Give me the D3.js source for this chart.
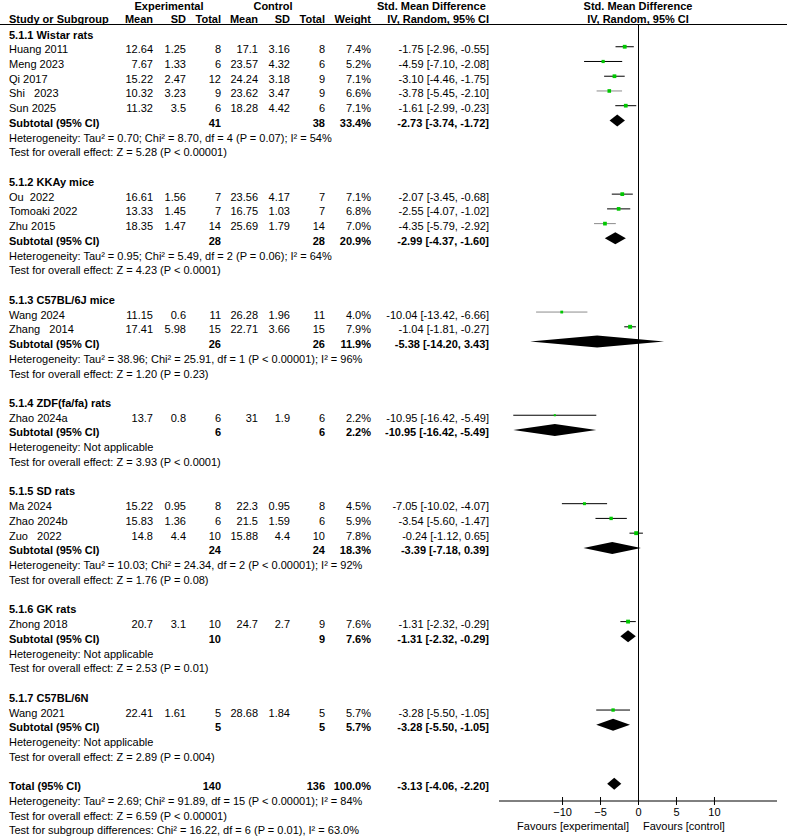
<!DOCTYPE html>
<html><head><meta charset="utf-8">
<script src="https://cdn.jsdelivr.net/npm/d3@7"></script>
<style>
body{margin:0;background:#fff;}
svg text{font-family:"Liberation Sans",Arial,sans-serif;font-size:11px;fill:#000;white-space:pre;}
svg text.b{font-weight:bold;}
</style></head><body><svg id="c" width="787" height="838"></svg>
<script>
// ---------- DATA ----------
const groupNames = ["5.1.1 Wistar rats","5.1.2 KKAy mice","5.1.3 C57BL/6J mice","5.1.4 ZDF(fa/fa) rats","5.1.5 SD rats","5.1.6 GK rats","5.1.7 C57BL/6N"];
const studyNames = ["Huang 2011","Meng 2023","Qi 2017","Shi   2023","Sun 2025","Ou  2022","Tomoaki 2022","Zhu 2015","Wang 2024","Zhang   2014","Zhao 2024a","Ma 2024","Zhao 2024b","Zuo   2022","Zhong 2018","Wang 2021"];
const studyGroup = [0,0,0,0,0,1,1,1,2,2,3,4,4,4,5,6];
const expMean = [12.64,7.67,15.22,10.32,11.32,16.61,13.33,18.35,11.15,17.41,13.7,15.22,15.83,14.8,20.7,22.41];
const expSD = [1.25,1.33,2.47,3.23,3.5,1.56,1.45,1.47,0.6,5.98,0.8,0.95,1.36,4.4,3.1,1.61];
const expN = [8,6,12,9,6,7,7,14,11,15,6,8,6,10,10,5];
const ctlMean = [17.1,23.57,24.24,23.62,18.28,23.56,16.75,25.69,26.28,22.71,31,22.3,21.5,15.88,24.7,28.68];
const ctlSD = [3.16,4.32,3.18,3.47,4.42,4.17,1.03,1.79,1.96,3.66,1.9,0.95,1.59,4.4,2.7,1.84];
const ctlN = [8,6,9,9,6,7,7,14,11,15,6,8,6,10,9,5];
const weight = [7.4,5.2,7.1,6.6,7.1,7.1,6.8,7.0,4.0,7.9,2.2,4.5,5.9,7.8,7.6,5.7];
const smd = [-1.75,-4.59,-3.10,-3.78,-1.61,-2.07,-2.55,-4.35,-10.04,-1.04,-10.95,-7.05,-3.54,-0.24,-1.31,-3.28];
const ciLow = [-2.96,-7.10,-4.46,-5.45,-2.99,-3.45,-4.07,-5.79,-13.42,-1.81,-16.42,-10.02,-5.60,-1.12,-2.32,-5.50];
const ciHigh = [-0.55,-2.08,-1.75,-2.10,-0.23,-0.68,-1.02,-2.92,-6.66,-0.27,-5.49,-4.07,-1.47,0.65,-0.29,-1.05];

const subExpN = [41,28,26,6,24,10,5];
const subCtlN = [38,28,26,6,24,9,5];
const subWeight = [33.4,20.9,11.9,2.2,18.3,7.6,5.7];
const subSmd = [-2.73,-2.99,-5.38,-10.95,-3.39,-1.31,-3.28];
const subLow = [-3.74,-4.37,-14.20,-16.42,-7.18,-2.32,-5.50];
const subHigh = [-1.72,-1.60,3.43,-5.49,0.39,-0.29,-1.05];
const hetText = [
  "Heterogeneity: Tau\u00b2 = 0.70; Chi\u00b2 = 8.70, df = 4 (P = 0.07); I\u00b2 = 54%",
  "Heterogeneity: Tau\u00b2 = 0.95; Chi\u00b2 = 5.49, df = 2 (P = 0.06); I\u00b2 = 64%",
  "Heterogeneity: Tau\u00b2 = 38.96; Chi\u00b2 = 25.91, df = 1 (P < 0.00001); I\u00b2 = 96%",
  "Heterogeneity: Not applicable",
  "Heterogeneity: Tau\u00b2 = 10.03; Chi\u00b2 = 24.34, df = 2 (P < 0.00001); I\u00b2 = 92%",
  "Heterogeneity: Not applicable",
  "Heterogeneity: Not applicable"
];
const effectText = [
  "Test for overall effect: Z = 5.28 (P < 0.00001)",
  "Test for overall effect: Z = 4.23 (P < 0.0001)",
  "Test for overall effect: Z = 1.20 (P = 0.23)",
  "Test for overall effect: Z = 3.93 (P < 0.0001)",
  "Test for overall effect: Z = 1.76 (P = 0.08)",
  "Test for overall effect: Z = 2.53 (P = 0.01)",
  "Test for overall effect: Z = 2.89 (P = 0.004)"
];
const totalN = [140, 136];
const totalWeight = 100.0;
const totalEst = [-3.13, -4.06, -2.20];
const totalHet = "Heterogeneity: Tau\u00b2 = 2.69; Chi\u00b2 = 91.89, df = 15 (P < 0.00001); I\u00b2 = 84%";
const totalEffect = "Test for overall effect: Z = 6.59 (P < 0.00001)";
const subgroupDiff = "Test for subgroup differences: Chi\u00b2 = 16.22, df = 6 (P = 0.01), I\u00b2 = 63.0%";
const xTicks = [-10, -5, 0, 5, 10];
const favourLabels = ["Favours [experimental]", "Favours [control]"];
const grayCI = ["Shi   2023", "Zhu 2015", "Wang 2024"];

// ---------- LAYOUT ----------
const svg = d3.select("#c");
const f2 = d => d.toFixed(2);
const ciStr = (e, l, h) => `${f2(e)} [${f2(l)}, ${f2(h)}]`;

const x = d3.scaleLinear().domain([-18.3, 18.3]).range([499, 777]);
const col = {study: 9, expMean: 153, expSD: 186, expN: 221, ctlMean: 258, ctlSD: 290, ctlN: 325, w: 371, eff: 489};

// build rows
const rows = [];
groupNames.forEach((g, gi) => {
  rows.push({type: "group", gi});
  studyNames.forEach((s, si) => { if (studyGroup[si] === gi) rows.push({type: "study", si}); });
  rows.push({type: "sub", gi});
  rows.push({type: "het", gi});
  rows.push({type: "eff", gi});
  rows.push({type: "blank"});
});
rows.push({type: "total"});
rows.push({type: "thet"});
rows.push({type: "teff"});
rows.push({type: "tsub"});

const y = d3.scaleLinear().domain([0, rows.length - 1]).range([38.5, 38.5 + (rows.length - 1) * 14.74]);

function txt(xp, yp, s, anchor, bold) {
  return svg.append("text").attr("x", xp).attr("y", yp).attr("text-anchor", anchor || "start")
    .attr("class", bold ? "b" : null).text(s);
}

// header
txt(169, 9.5, "Experimental", "middle", true);
txt(273, 9.5, "Control", "middle", true);
txt(377, 9.5, "Std. Mean Difference", "start", true);
txt(638, 9.5, "Std. Mean Difference", "middle", true);
txt(col.study, 23, "Study or Subgroup", "start", true);
[["Mean", col.expMean], ["SD", col.expSD], ["Total", col.expN], ["Mean", col.ctlMean], ["SD", col.ctlSD], ["Total", col.ctlN], ["Weight", col.w], ["IV, Random, 95% CI", col.eff]]
  .forEach(([t, xp]) => txt(xp, 23, t, "end", true));
txt(638, 23, "IV, Random, 95% CI", "middle", true);
svg.append("line").attr("x1", 0).attr("x2", 787).attr("y1", 24.5).attr("y2", 24.5).attr("stroke", "#000").attr("stroke-width", 1);

// zero line
const axisY = 801;
svg.append("line").attr("x1", Math.round(x(0)) + 0.5).attr("x2", Math.round(x(0)) + 0.5)
  .attr("y1", 24.5).attr("y2", axisY).attr("stroke", "#000").attr("stroke-width", 1);

function diamond(yc, e, l, h) {
  const hh = 6;
  svg.append("path")
    .attr("d", `M${x(l)},${yc} L${x(e)},${yc - hh} L${x(h)},${yc} L${x(e)},${yc + hh} Z`)
    .attr("fill", "#000");
}

rows.forEach((r, i) => {
  const yb = y(i);
  const ym = yb - 6.5;
  if (r.type === "group") txt(col.study, yb, groupNames[r.gi], "start", true);
  else if (r.type === "study") {
    const s = r.si;
    txt(col.study, yb, studyNames[s]);
    txt(col.expMean, yb, String(expMean[s]), "end");
    txt(col.expSD, yb, String(expSD[s]), "end");
    txt(col.expN, yb, String(expN[s]), "end");
    txt(col.ctlMean, yb, String(ctlMean[s]), "end");
    txt(col.ctlSD, yb, String(ctlSD[s]), "end");
    txt(col.ctlN, yb, String(ctlN[s]), "end");
    txt(col.w, yb, weight[s].toFixed(1) + "%", "end");
    txt(col.eff, yb, ciStr(smd[s], ciLow[s], ciHigh[s]), "end");
    const c = grayCI.includes(studyNames[s]) ? "#8c8c8c" : "#000";
    svg.append("line").attr("x1", x(ciLow[s])).attr("x2", x(ciHigh[s])).attr("y1", ym).attr("y2", ym)
      .attr("stroke", c).attr("stroke-width", 1);
    const sz = Math.sqrt(weight[s]) * 1.4;
    svg.append("rect").attr("x", x(smd[s]) - sz / 2).attr("y", ym - sz / 2).attr("width", sz).attr("height", sz)
      .attr("fill", "#00c800");
  } else if (r.type === "sub") {
    const g = r.gi;
    txt(col.study, yb, "Subtotal (95% CI)", "start", true);
    txt(col.expN, yb, String(subExpN[g]), "end", true);
    txt(col.ctlN, yb, String(subCtlN[g]), "end", true);
    txt(col.w, yb, subWeight[g].toFixed(1) + "%", "end", true);
    txt(col.eff, yb, ciStr(subSmd[g], subLow[g], subHigh[g]), "end", true);
    diamond(ym, subSmd[g], subLow[g], subHigh[g]);
  } else if (r.type === "het") txt(col.study, yb, hetText[r.gi]);
  else if (r.type === "eff") txt(col.study, yb, effectText[r.gi]);
  else if (r.type === "total") {
    txt(col.study, yb, "Total (95% CI)", "start", true);
    txt(col.expN, yb, String(totalN[0]), "end", true);
    txt(col.ctlN, yb, String(totalN[1]), "end", true);
    txt(col.w, yb, totalWeight.toFixed(1) + "%", "end", true);
    txt(col.eff, yb, ciStr(totalEst[0], totalEst[1], totalEst[2]), "end", true);
    diamond(ym, totalEst[0], totalEst[1], totalEst[2]);
  } else if (r.type === "thet") txt(col.study, yb, totalHet);
  else if (r.type === "teff") txt(col.study, yb, totalEffect);
  else if (r.type === "tsub") txt(col.study, yb, subgroupDiff);
});

// axis
const ax = svg.append("g").attr("transform", `translate(0,${axisY})`);
ax.append("line").attr("x1", x.range()[0]).attr("x2", x.range()[1]).attr("y1", 0).attr("y2", 0).attr("stroke", "#000");
const axisG = ax.append("g").call(d3.axisBottom(x).tickValues(xTicks).tickSize(4).tickPadding(3).tickFormat(d3.format("d")));
axisG.select(".domain").remove();
axisG.selectAll(".tick line").attr("y1", -4).attr("stroke", "#000");
axisG.selectAll(".tick text").attr("font-family", null).attr("font-size", null).style("font-size", "11px");
txt(x(0) - 9, 830, favourLabels[0], "end");
txt(x(0) + 5, 830, favourLabels[1], "start");
</script></body></html>
